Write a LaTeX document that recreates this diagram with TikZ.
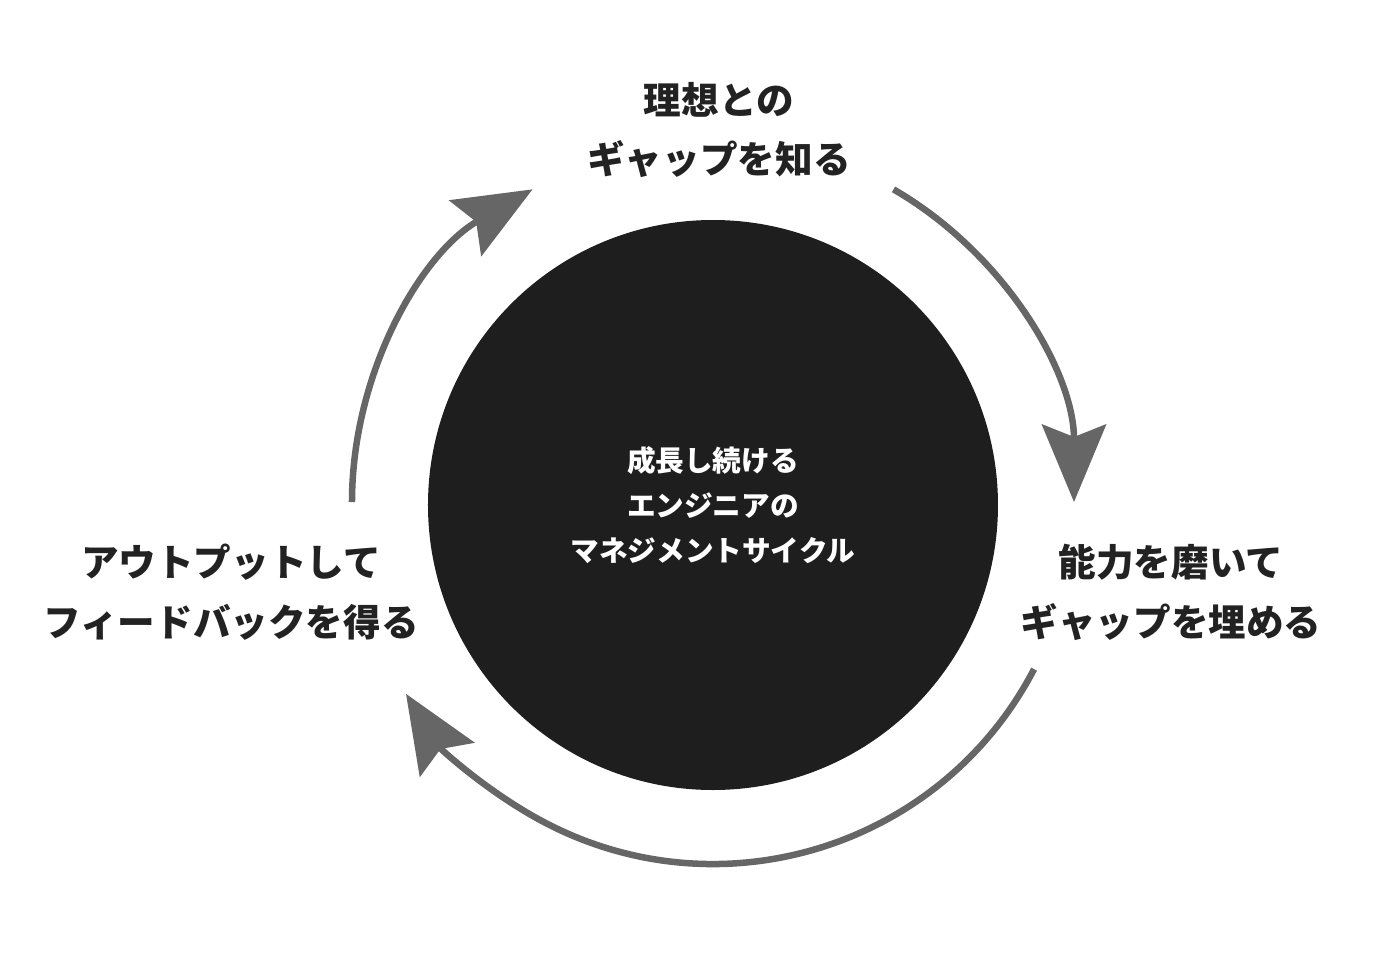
\documentclass[tikz,border=0pt]{standalone}
\usepackage{fontspec}
\setmainfont{Noto Sans CJK JP}
\usepackage{xcolor}
\usetikzlibrary{arrows.meta}

\definecolor{coregray}{HTML}{1E1E1E}
\definecolor{arrowgray}{HTML}{666666}
\definecolor{textdark}{HTML}{222222}

\begin{document}
\begin{tikzpicture}[
    cyc/.style={-{Stealth[length=1.55cm, width=1.28cm, inset=0.25cm]}, line width=0.13cm, arrowgray},
    lbl/.style={font=\bfseries\fontsize{21.4}{34}\selectfont, text=textdark, align=center}
  ]
  \useasboundingbox (-14.26,-9.26) rectangle (13.3,10.04);
  \node[circle, fill=coregray, minimum size=11.4cm, inner sep=0pt, text=white, align=center,
        font=\bfseries\fontsize{16.3}{25.5}\selectfont] (core) at (0,-0.06)
        {成長し続ける\\エンジニアの\\マネジメントサイクル};
  \node[lbl] (gap) at (0.12,7.44) {理想との\\ギャップを知る};
  \node[lbl] (fill) at (9.16,-1.8) {能力を磨いて\\ギャップを埋める};
  \node[lbl] (feedback) at (-9.64,-1.8) {アウトプットして\\フィードバックを得る};
  % arcs round the core
  \coordinate (a1) at (180:7.22);
  \coordinate (a2) at (60:7.22);
  \coordinate (a3) at (-27.5:7.24);
  \draw[cyc] (a1) arc[start angle=180, end angle=120, radius=7.22];
  \draw[cyc] (a2) arc[start angle=60, end angle=0, radius=7.22];
  \draw[cyc] (a3) arc[start angle=-27.5, end angle=-148, radius=7.24];
\end{tikzpicture}
\end{document}
